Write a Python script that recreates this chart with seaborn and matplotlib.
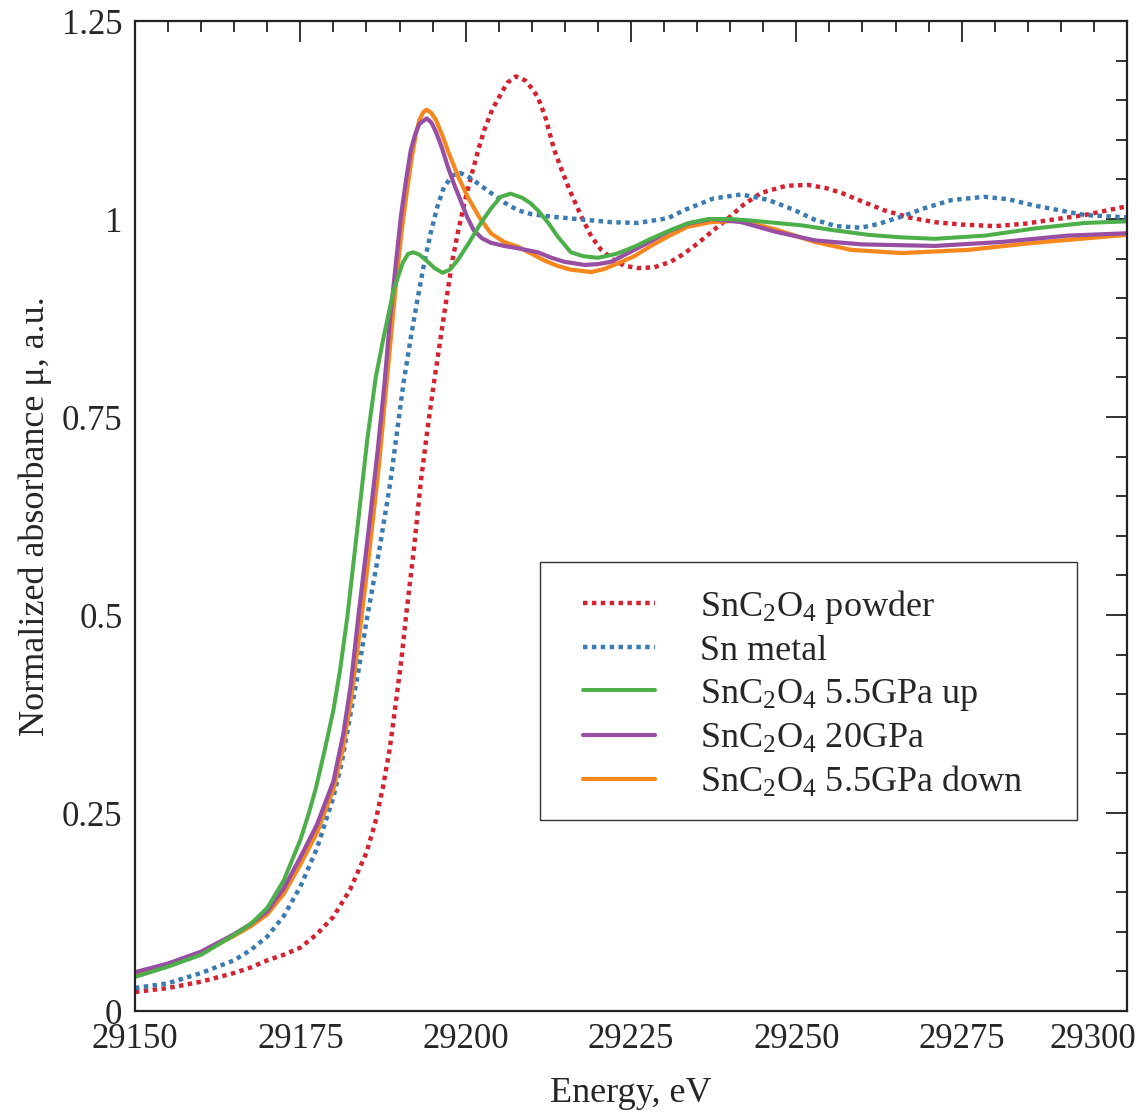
import numpy as np
import pandas as pd
import seaborn as sns
import matplotlib.pyplot as plt
from matplotlib.ticker import MultipleLocator
from matplotlib.transforms import offset_copy
from matplotlib.patches import Rectangle

sns.set_style("white")
plt.rcParams['font.family'] = ['Liberation Serif', 'DejaVu Serif']
plt.rcParams['mathtext.fontset'] = 'custom'
plt.rcParams['mathtext.rm'] = 'Liberation Serif'
plt.rcParams['mathtext.default'] = 'rm'

# SnC2O4 powder
e_powder = [29150, 29155, 29160, 29165, 29167.5, 29170, 29172.5, 29175, 29177.5, 29180,
            29182.5, 29185, 29186.3, 29187.5, 29188.5, 29189.5, 29190.3, 29191, 29192.2,
            29193.2, 29194.2, 29195.2, 29196.3, 29197.3, 29198, 29198.8, 29199.8, 29200.8,
            29202, 29202.8, 29204, 29204.8, 29206.3, 29207.6, 29209, 29210, 29210.9,
            29212, 29213.4, 29214.6, 29215.9, 29217.5, 29219, 29220.5, 29222.4, 29224,
            29226, 29228.5, 29231, 29233, 29235.2, 29237.5, 29239.7, 29242, 29244.7,
            29248.5, 29251.8, 29254.5, 29256.8, 29260, 29263.3, 29267, 29270.9, 29275,
            29280, 29284.5, 29288.6, 29293.6, 29298.8, 29300]
v_powder = [0.024, 0.029, 0.037, 0.048, 0.055, 0.064, 0.071, 0.080, 0.097, 0.119,
            0.153, 0.200, 0.237, 0.283, 0.330, 0.393, 0.445, 0.500, 0.585,
            0.667, 0.733, 0.793, 0.855, 0.910, 0.948, 0.982, 1.020, 1.053,
            1.090, 1.112, 1.138, 1.150, 1.172, 1.180, 1.175, 1.165, 1.154,
            1.130, 1.087, 1.060, 1.033, 1.003, 0.978, 0.961, 0.948, 0.941,
            0.938, 0.939, 0.946, 0.956, 0.970, 0.986, 1.001, 1.018, 1.033,
            1.042, 1.043, 1.039, 1.033, 1.022, 1.011, 1.002, 0.996, 0.993,
            0.991, 0.994, 0.999, 1.005, 1.014, 1.016]

# Sn metal
e_metal = [29150, 29155, 29160, 29165, 29167.5, 29170, 29172.5, 29175, 29177.5, 29180,
           29181.3, 29182.5, 29183.8, 29185.1, 29186.9, 29188.6, 29189.6, 29190.6, 29191.7,
           29192.7, 29193.7, 29194.7, 29195.7, 29196.7, 29198, 29199.2, 29200.3, 29201.5,
           29203.8, 29205.8, 29207.9, 29210, 29212.9, 29218, 29222, 29226, 29230.6,
           29233, 29237.5, 29241.7, 29245.8, 29249.5, 29252.8, 29256, 29259.8, 29262.5,
           29265.9, 29269.5, 29273.5, 29278.5, 29282, 29286, 29293.6, 29300]
v_metal = [0.029, 0.035, 0.048, 0.064, 0.077, 0.094, 0.120, 0.157, 0.205, 0.270,
           0.315, 0.371, 0.430, 0.497, 0.580, 0.667, 0.730, 0.793, 0.850,
           0.898, 0.943, 0.982, 1.015, 1.040, 1.055, 1.058, 1.054, 1.047,
           1.033, 1.021, 1.011, 1.006, 1.003, 0.999, 0.996, 0.995, 1.001,
           1.011, 1.026, 1.031, 1.024, 1.012, 0.999, 0.991, 0.989, 0.994,
           1.003, 1.014, 1.024, 1.028, 1.025, 1.017, 1.005, 1.002]

# SnC2O4 5.5GPa up
e_up = [29150, 29155, 29160, 29165, 29167.5, 29170, 29172.5, 29175, 29176.3, 29177.4,
        29178.7, 29180, 29181, 29182.1, 29183.5, 29185.1, 29186.4, 29187.6, 29189.1,
        29190.5, 29191.3, 29192.1, 29193, 29194, 29195.3, 29196.5, 29197.6, 29198.8,
        29200.5, 29202.3, 29203.8, 29205.3, 29206.8, 29208.5, 29209.8, 29210.9, 29212.5,
        29213.9, 29215.9, 29217.8, 29220, 29222.8, 29225.5, 29228, 29231, 29233.8,
        29236.7, 29240, 29243.2, 29250.8, 29255.5, 29260.9, 29265.5, 29270.9, 29278.5,
        29286, 29293.6, 29300]
v_up = [0.043, 0.056, 0.071, 0.096, 0.110, 0.130, 0.165, 0.216, 0.250, 0.283,
        0.330, 0.380, 0.430, 0.497, 0.600, 0.720, 0.800, 0.851, 0.910,
        0.945, 0.956, 0.958, 0.955, 0.948, 0.938, 0.932, 0.936, 0.948,
        0.970, 0.995, 1.013, 1.028, 1.032, 1.027, 1.020, 1.011, 0.995,
        0.978, 0.958, 0.953, 0.951, 0.956, 0.965, 0.975, 0.986, 0.995,
        1.000, 1.000, 0.998, 0.992, 0.986, 0.980, 0.977, 0.975, 0.979,
        0.988, 0.995, 0.997]

# SnC2O4 20GPa
e_20 = [29150, 29155, 29160, 29165, 29167.5, 29170, 29172.5, 29175, 29177.5, 29180,
        29181.5, 29182.6, 29183.8, 29185.3, 29186.7, 29187.7, 29188.6, 29189.4, 29190.2,
        29191, 29191.7, 29192.4, 29193, 29194.1, 29194.8, 29195.5, 29196.4, 29197.3,
        29198.2, 29199.2, 29200.2, 29201.2, 29202.4, 29203.8, 29205.8, 29207.9, 29210.9,
        29213, 29214.9, 29218, 29220, 29222, 29225.5, 29228, 29230.6, 29233.5,
        29237.2, 29241.7, 29246.8, 29252.8, 29259.8, 29270.9, 29281, 29291, 29300]
v_20 = [0.049, 0.060, 0.075, 0.097, 0.110, 0.126, 0.155, 0.194, 0.235, 0.290,
        0.350, 0.410, 0.500, 0.605, 0.708, 0.790, 0.877, 0.940, 1.003,
        1.050, 1.087, 1.108, 1.120, 1.127, 1.122, 1.110, 1.090, 1.066,
        1.045, 1.024, 1.003, 0.986, 0.976, 0.970, 0.966, 0.963, 0.958,
        0.951, 0.946, 0.942, 0.943, 0.946, 0.961, 0.972, 0.984, 0.994,
        1.000, 0.996, 0.984, 0.973, 0.968, 0.966, 0.971, 0.979, 0.982]

# SnC2O4 5.5GPa down
e_down = [29150, 29155, 29160, 29165, 29167.5, 29170, 29172.5, 29175, 29177.5, 29180,
          29181.4, 29182.6, 29184, 29185.5, 29186.9, 29187.9, 29188.8, 29189.6, 29190.4,
          29191.2, 29191.9, 29192.5, 29193, 29193.6, 29194.1, 29194.8, 29195.5, 29196.5,
          29197.5, 29198.9, 29200.3, 29202, 29203.8, 29205.8, 29207.9, 29210, 29211.8,
          29213.8, 29215.9, 29219, 29221, 29223, 29225.5, 29228, 29230.6, 29233.5,
          29237, 29241.7, 29246.8, 29252.8, 29258.3, 29265.9, 29276, 29286, 29300]
v_down = [0.046, 0.058, 0.073, 0.095, 0.107, 0.122, 0.148, 0.185, 0.225, 0.280,
          0.330, 0.390, 0.480, 0.585, 0.690, 0.780, 0.860, 0.930, 0.990,
          1.040, 1.080, 1.108, 1.125, 1.135, 1.138, 1.134, 1.125, 1.105,
          1.082, 1.053, 1.028, 1.003, 0.982, 0.971, 0.965, 0.956, 0.948,
          0.941, 0.936, 0.933, 0.937, 0.944, 0.953, 0.966, 0.978, 0.990,
          0.996, 0.998, 0.987, 0.971, 0.961, 0.957, 0.961, 0.970, 0.980]

labels = ["SnC$_2$O$_4$ powder", "Sn metal", "SnC$_2$O$_4$ 5.5GPa up",
          "SnC$_2$O$_4$ 20GPa", "SnC$_2$O$_4$ 5.5GPa down"]
colors = ["#d42230", "#3a7cb2", "#4daf4a", "#984ea3", "#f5871c"]
x_ticks = [29150, 29175, 29200, 29225, 29250, 29275, 29300]
y_ticks = [0, 0.25, 0.5, 0.75, 1, 1.25]
y_ticklabels = ["0", "0.25", "0.5", "0.75", "1", "1.25"]
dotted = (0, (1, 1))

fig = plt.figure(figsize=(11.45, 11.16), dpi=100)
ax = fig.add_axes([135 / 1145, 105 / 1116, 992 / 1145, 990 / 1116])

series = [(e_powder, v_powder), (e_metal, v_metal), (e_up, v_up), (e_20, v_20), (e_down, v_down)]
styles = [dict(linestyle=dotted, linewidth=3.2), dict(linestyle=dotted, linewidth=3.2),
          dict(linewidth=2.9), dict(linewidth=3.0), dict(linewidth=3.0)]
order = [0, 1, 4, 3, 2]
for i in order:
    e, v = series[i]
    sns.lineplot(x=e, y=v, ax=ax, color=colors[i], label=labels[i],
                 estimator=None, sort=False, **styles[i])

ax.set_xlim(29150, 29300)
ax.set_ylim(0, 1.25)
ax.set_xticks(x_ticks)
ax.xaxis.set_minor_locator(MultipleLocator(5))
ax.set_yticks(y_ticks, y_ticklabels)
ax.yaxis.set_minor_locator(MultipleLocator(0.05))
ax.tick_params(which='both', direction='in', top=True, right=True, labelsize=25,
               width=1.3, color='#222222')
ax.tick_params(which='major', length=15, pad=9)
ax.tick_params(which='minor', length=8)
for s in ax.spines.values():
    s.set_linewidth(1.6)
    s.set_color('#222222')

ax.set_xlabel("Energy, eV", fontsize=26, labelpad=15)
ax.set_ylabel("Normalized absorbance μ, a.u.", fontsize=26, labelpad=7)

# shift the last x label inside the figure
last = ax.xaxis.get_major_ticks()[-1].label1
last.set_transform(offset_copy(last.get_transform(), fig=fig, x=-34, units='dots'))

# legend frame drawn as a box, legend entries inside it
ax.add_patch(Rectangle((0.408, 0.193), 0.542, 0.2605, transform=ax.transAxes,
                       facecolor='white', edgecolor='#333333', linewidth=1.0, zorder=4))
h, l = ax.get_legend_handles_labels()
lookup = dict(zip(l, h))
leg = ax.legend([lookup[x] for x in labels], labels, loc='upper left',
                bbox_to_anchor=(0.4516, 0.4275), borderaxespad=0, borderpad=0,
                fontsize=26, frameon=False, handlelength=2.0, handletextpad=1.25,
                labelspacing=0.25)
leg.set_zorder(5)

fig.savefig("out.png", dpi=100)
